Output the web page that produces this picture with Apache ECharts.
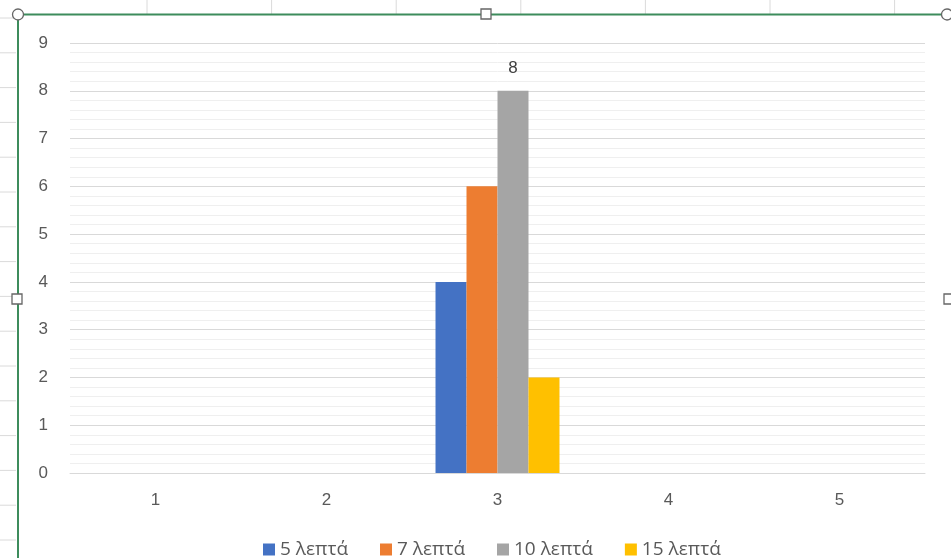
<!DOCTYPE html>
<html>
<head>
<meta charset="utf-8">
<script src="https://cdn.jsdelivr.net/npm/echarts@6/dist/echarts.min.js"></script>
<style>
html,body{margin:0;padding:0;background:#fff;}
#c{width:951px;height:558px;}
</style>
</head>
<body>
<div id="c"></div>
<script>
var categories = ['1', '2', '3', '4', '5'];
var seriesNames = ['5 λεπτά', '7 λεπτά', '10 λεπτά', '15 λεπτά'];
var values5 = [null, null, 4, null, null];
var values7 = [null, null, 6, null, null];
var values10 = [null, null, 8, null, null];
var values15 = [null, null, 2, null, null];
var yTicks = [0, 1, 2, 3, 4, 5, 6, 7, 8, 9];
var colors = ['#4472C4', '#ED7D31', '#A5A5A5', '#FFC000'];

var chart = echarts.init(document.getElementById('c'));
var font = '"Liberation Sans", "DejaVu Sans", sans-serif';
var legendFont = '"Open Sans", "Liberation Sans", sans-serif';

// spreadsheet decoration (cell lines and selection frame)
var deco = [];
for (var i = 0; i < 7; i++) {
  var x = 147 + i * 124.6;
  deco.push({type: 'line', shape: {x1: x, y1: 0, x2: x, y2: 14}, style: {stroke: '#dadada', lineWidth: 1}, z: 1});
}
for (var j = 0; j < 16; j++) {
  var y = 18 + j * 34.8;
  deco.push({type: 'line', shape: {x1: 0, y1: y, x2: 16, y2: y}, style: {stroke: '#dadada', lineWidth: 1}, z: 1});
}
deco.push({type: 'line', shape: {x1: 18, y1: 14.5, x2: 946, y2: 14.5}, style: {stroke: '#3d8c5c', lineWidth: 2}, z: 5});
deco.push({type: 'line', shape: {x1: 18, y1: 14.5, x2: 18, y2: 558}, style: {stroke: '#3d8c5c', lineWidth: 2}, z: 5});
deco.push({type: 'circle', shape: {cx: 18, cy: 14.5, r: 5.5}, style: {fill: '#fff', stroke: '#666', lineWidth: 1.3}, z: 6});
deco.push({type: 'circle', shape: {cx: 947, cy: 14.5, r: 5.5}, style: {fill: '#fff', stroke: '#666', lineWidth: 1.3}, z: 6});
deco.push({type: 'rect', shape: {x: 481, y: 9, width: 10, height: 10}, style: {fill: '#fff', stroke: '#666', lineWidth: 1.3}, z: 6});
deco.push({type: 'rect', shape: {x: 12, y: 294, width: 10, height: 10}, style: {fill: '#fff', stroke: '#666', lineWidth: 1.3}, z: 6});
deco.push({type: 'rect', shape: {x: 944, y: 294, width: 10, height: 10}, style: {fill: '#fff', stroke: '#666', lineWidth: 1.3}, z: 6});

function mk(name, data, idx, withLabel) {
  return {
    name: name,
    type: 'bar',
    data: data,
    barGap: '0%',
    barCategoryGap: '27.5%',
    itemStyle: {color: colors[idx]},
    label: {
      show: withLabel,
      position: 'top',
      distance: 14,
      color: '#404040',
      fontSize: 17,
      fontFamily: font
    },
    animation: false
  };
}

chart.setOption({
  animation: false,
  backgroundColor: '#fff',
  graphic: deco,
  grid: {left: 70, right: 26, top: 43, bottom: 85, containLabel: false},
  legend: {
    top: 535,
    left: 258,
    itemWidth: 12,
    itemHeight: 12,
    itemGap: 32,
    icon: 'rect',
    textStyle: {color: '#595959', fontSize: 19, fontFamily: legendFont},
    data: seriesNames
  },
  xAxis: {
    type: 'category',
    data: categories,
    axisLine: {show: true, lineStyle: {color: '#d9d9d9'}},
    axisTick: {show: false},
    axisLabel: {color: '#595959', fontSize: 17, fontFamily: font, margin: 19}
  },
  yAxis: {
    type: 'value',
    min: 0,
    max: 9,
    interval: 1,
    axisLine: {show: false},
    axisTick: {show: false},
    axisLabel: {color: '#595959', fontSize: 17, fontFamily: font, margin: 22, padding: [0, 0, 4, 0],
      formatter: function (v) { return yTicks.indexOf(v) >= 0 ? String(v) : ''; }},
    splitLine: {lineStyle: {color: '#d9d9d9', width: 1}},
    minorTick: {show: false, splitNumber: 5},
    minorSplitLine: {show: true, lineStyle: {color: '#efefef', width: 1}}
  },
  series: [
    mk(seriesNames[0], values5, 0, false),
    mk(seriesNames[1], values7, 1, false),
    mk(seriesNames[2], values10, 2, true),
    mk(seriesNames[3], values15, 3, false)
  ]
});
</script>
</body>
</html>
